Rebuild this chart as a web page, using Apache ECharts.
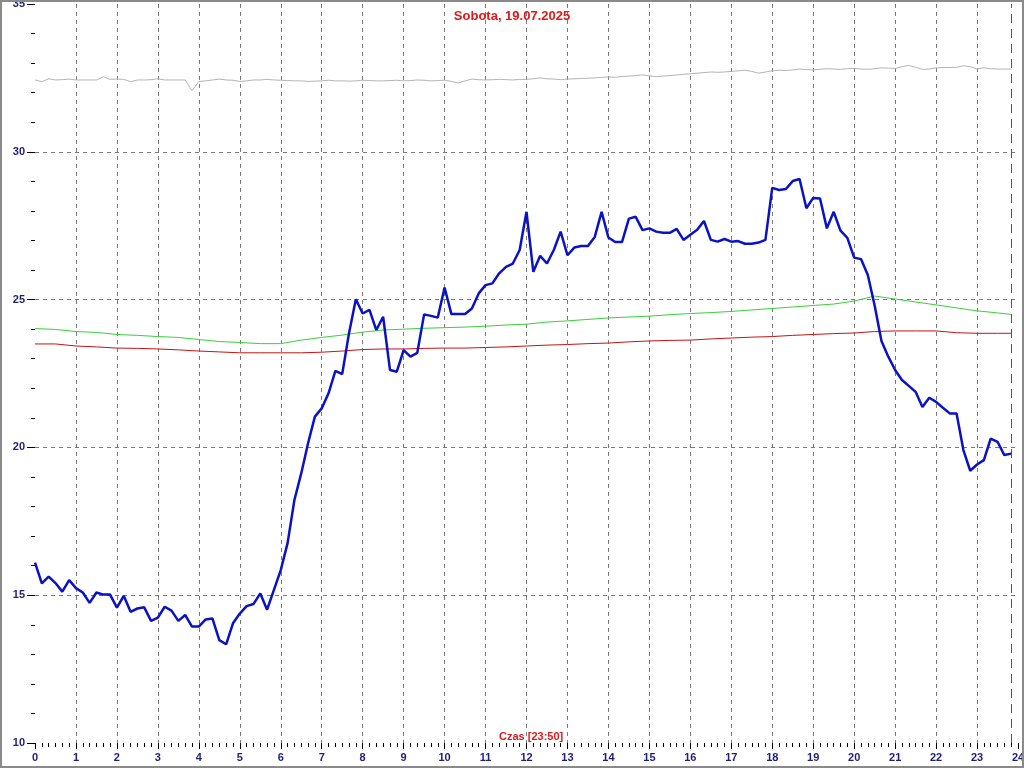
<!DOCTYPE html>
<html>
<head>
<meta charset="utf-8">
<script src="https://cdn.jsdelivr.net/npm/echarts@6/dist/echarts.min.js"></script>
<style>
html,body{margin:0;padding:0;background:#fff;}
#chart{position:absolute;left:0;top:0;width:1024px;height:768px;}
#frame{position:absolute;left:0;top:0;width:1024px;height:768px;box-sizing:border-box;border:2px solid #8a8a8a;pointer-events:none;}
</style>
</head>
<body>
<div id="chart"></div>
<div id="frame"></div>
<script>
// ---- data ----
const titleText = 'Sobota, 19.07.2025';
const xAxisTitle = 'Czas [23:50]';
const yAxisTitle = '°C';
const currentTime = '23:50';
const hourTicks = [0,1,2,3,4,5,6,7,8,9,10,11,12,13,14,15,16,17,18,19,20,21,22,23,24];
const yTicks = [10,15,20,25,30,35];

// 10-minute samples 00:00 .. 23:50
const blueTemp = [
16.10,15.40,15.63,15.41,15.12,15.51,15.24,15.09,14.74,15.09,15.02,15.02,
14.58,14.98,14.44,14.55,14.59,14.13,14.24,14.61,14.48,14.13,14.33,13.94,
13.94,14.18,14.21,13.48,13.34,14.05,14.38,14.63,14.70,15.06,14.51,15.18,
15.85,16.76,18.22,19.12,20.14,21.04,21.32,21.83,22.59,22.48,23.86,25.01,
24.53,24.65,23.97,24.42,22.62,22.56,23.29,23.07,23.20,24.50,24.45,24.39,
25.41,24.51,24.51,24.51,24.70,25.21,25.49,25.55,25.89,26.11,26.22,26.68,
27.97,25.94,26.48,26.22,26.68,27.30,26.50,26.76,26.81,26.81,27.12,27.97,
27.10,26.95,26.95,27.74,27.80,27.35,27.41,27.30,27.26,27.26,27.39,27.02,
27.19,27.36,27.66,27.02,26.96,27.05,26.96,26.98,26.89,26.89,26.93,27.02,
28.78,28.71,28.74,29.01,29.08,28.09,28.44,28.42,27.41,27.97,27.33,27.09,
26.42,26.37,25.83,24.80,23.60,23.07,22.62,22.28,22.08,21.88,21.37,21.68,
21.54,21.34,21.15,21.15,19.91,19.21,19.42,19.57,20.30,20.19,19.74,19.79
];
const grayTemp = [
32.43,32.37,32.47,32.43,32.44,32.46,32.43,32.43,32.43,32.43,32.54,32.45,
32.46,32.45,32.37,32.43,32.43,32.44,32.47,32.43,32.43,32.43,32.43,32.07,
32.38,32.40,32.43,32.46,32.43,32.42,32.38,32.40,32.43,32.43,32.45,32.43,
32.42,32.41,32.40,32.40,32.38,32.39,32.40,32.42,32.40,32.40,32.39,32.40,
32.42,32.41,32.40,32.40,32.41,32.42,32.40,32.41,32.43,32.42,32.40,32.41,
32.42,32.38,32.33,32.40,32.46,32.44,32.43,32.44,32.45,32.44,32.43,32.45,
32.45,32.47,32.50,32.47,32.46,32.44,32.46,32.47,32.48,32.49,32.50,32.52,
32.53,32.52,32.55,32.56,32.58,32.60,32.57,32.54,32.56,32.58,32.60,32.62,
32.64,32.66,32.68,32.70,32.69,32.70,32.72,32.74,32.76,32.72,32.66,32.70,
32.74,32.76,32.75,32.77,32.80,32.78,32.77,32.79,32.81,32.80,32.79,32.81,
32.82,32.80,32.79,32.81,32.84,32.83,32.82,32.88,32.92,32.86,32.79,32.80,
32.84,32.85,32.85,32.86,32.91,32.88,32.80,32.84,32.81,32.80,32.80,32.80
];
// 30-minute samples 00:00 .. 23:30, plus 23:50
const greenTemp = [
24.02,23.99,23.92,23.89,23.82,23.79,23.75,23.72,23.65,23.58,23.55,23.51,
23.51,23.63,23.72,23.80,23.90,23.97,24.00,24.03,24.05,24.07,24.10,24.14,
24.17,24.24,24.28,24.33,24.38,24.41,24.44,24.49,24.53,24.56,24.60,24.65,
24.70,24.75,24.80,24.85,24.95,25.12,25.02,24.92,24.82,24.72,24.62,24.55,
24.50
];
const redTemp = [
23.50,23.50,23.43,23.40,23.36,23.35,23.33,23.30,23.26,23.23,23.20,23.20,
23.20,23.20,23.22,23.26,23.31,23.33,23.33,23.35,23.36,23.36,23.38,23.40,
23.43,23.46,23.48,23.51,23.53,23.57,23.60,23.62,23.63,23.67,23.70,23.73,
23.75,23.79,23.82,23.85,23.87,23.92,23.94,23.94,23.94,23.88,23.86,23.86,
23.86
];

// ---- helpers ----
function toHours(hhmm){ const p = hhmm.split(':'); return +p[0] + (+p[1])/60; }
function slots(stepMin, count){ const a=[]; for(let i=0;i<count;i++){ a.push(i*stepMin/60); } return a; }
const t10 = slots(10, blueTemp.length);
const t30 = slots(30, 48).concat([toHours(currentTime)]);
const pairs = (ts, vs) => vs.map((v,i)=>[ts[i], v]);

const FONT = 'Arial, "Liberation Sans", sans-serif';
const NAVY = '#1e1e78';

const chart = echarts.init(document.getElementById('chart'), null, {renderer:'canvas'});
chart.setOption({
  animation:false,
  backgroundColor:'#ffffff',
  title:[
    {text:titleText, left:'center', top:10, padding:0,
     textStyle:{color:'#e01818', fontSize:13, fontWeight:'bold', fontFamily:FONT}},
    {text:xAxisTitle, left:499, top:731, padding:0,
     textStyle:{color:'#e01818', fontSize:11, fontWeight:'bold', fontFamily:FONT}}
  ],
  grid:{left:35, right:6, top:4, bottom:25, containLabel:false, outerBoundsMode:'none'},
  xAxis:{
    type:'value', min:hourTicks[0], max:hourTicks[hourTicks.length-1], interval:1,
    axisLine:{show:false},
    axisTick:{show:true, length:6, lineStyle:{color:'#000', width:1}},
    minorTick:{show:true, splitNumber:6, length:4, lineStyle:{color:'#000', width:1}},
    axisLabel:{color:NAVY, fontSize:11, fontWeight:'bold', fontFamily:FONT, margin:9},
    splitLine:{show:true, showMinLine:false, showMaxLine:false,
      lineStyle:{color:'#7a7a7a', width:1, type:[4,4]}}
  },
  yAxis:{
    type:'value', min:yTicks[0], max:yTicks[yTicks.length-1], interval:5,
    name:yAxisTitle, nameLocation:'middle', nameGap:24, nameRotate:90,
    nameTextStyle:{color:'#e01818', fontSize:12, fontWeight:'bold', fontFamily:FONT},
    axisLine:{show:false},
    axisTick:{show:true, length:8, lineStyle:{color:'#000', width:1}},
    minorTick:{show:true, splitNumber:5, length:4, lineStyle:{color:'#000', width:1}},
    axisLabel:{color:NAVY, fontSize:11, fontWeight:'bold', fontFamily:FONT, margin:10},
    splitLine:{show:true, showMinLine:false, showMaxLine:false,
      lineStyle:{color:'#7a7a7a', width:1, type:[4,4]}}
  },
  series:[
    {type:'line', data:pairs(t10, grayTemp), showSymbol:false, symbol:'none',
     lineStyle:{color:'#b4b4b4', width:1}, z:2},
    {type:'line', data:pairs(t30, greenTemp), showSymbol:false, symbol:'none',
     lineStyle:{color:'#3ad03a', width:1}, z:3},
    {type:'line', data:pairs(t30, redTemp), showSymbol:false, symbol:'none',
     lineStyle:{color:'#c41414', width:1}, z:3},
    {type:'line', data:pairs(t10, blueTemp), showSymbol:false, symbol:'none',
     lineStyle:{color:'#0a12c4', width:2.5}, z:4,
     markLine:{silent:true, symbol:['none','none'], label:{show:false},
       lineStyle:{color:'#1c7c1c', width:1, type:[9,6]},
       data:[{xAxis:toHours(currentTime)}]}}
  ]
});
</script>
</body>
</html>
